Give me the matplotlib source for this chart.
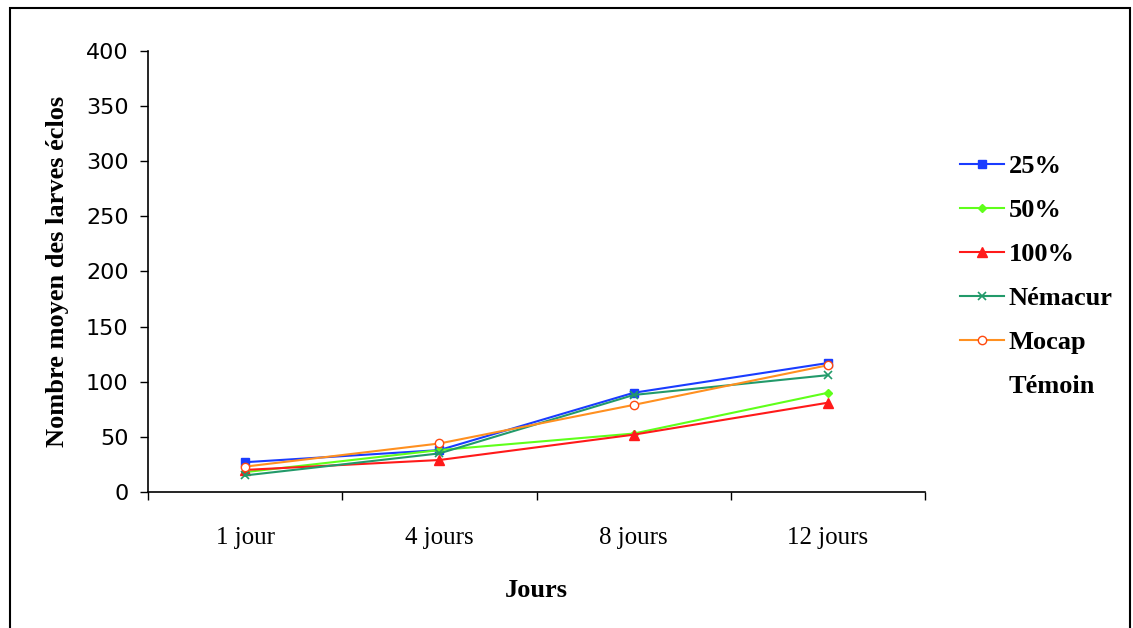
import matplotlib
matplotlib.use("Agg")
import matplotlib.pyplot as plt
from matplotlib.lines import Line2D
from matplotlib.patches import Rectangle

# donnees
jours = ["1 jour", "4 jours", "8 jours", "12 jours"]
d25 = [27, 38, 90, 117]
d50 = [18, 38, 53, 90]
d100 = [20, 29, 52, 81]
nemacur = [15, 35, 88, 106]
mocap = [23, 44, 79, 115]

fig = plt.figure(figsize=(11.33, 6.28), dpi=100)
ax = fig.add_axes([0.1306, 0.2166, 0.686, 0.7022])

x = range(len(jours))
ax.plot(x, d25, color="#1a3cff", marker="s", markersize=6, lw=1.5, label="25%")
ax.plot(x, d50, color="#5fff1a", marker="D", markersize=4, lw=1.5, label="50%")
ax.plot(x, d100, color="#ff1a1a", marker="^", markersize=7, lw=1.5, label="100%")
ax.plot(x, nemacur, color="#229a6a", marker="x", markersize=6, mew=1.2, lw=1.5, label="Némacur")
ax.plot(x, mocap, color="#ff9020", marker="o", markersize=6, mfc="white", mec="#ff4a10",
        lw=1.5, label="Mocap")
# Témoin : pas de courbe visible, seulement dans la légende
vide = Line2D([], [], color="none", label="Témoin")

ax.set_xlim(-0.5, 3.5)
ax.set_ylim(0, 400)
ax.set_yticks(range(0, 401, 50))
ax.set_xticks(list(x))
ax.set_xticklabels(jours, family="Liberation Serif", fontsize=18)
ax.set_xticks([-0.5, 0.5, 1.5, 2.5, 3.5], minor=True)
ax.tick_params(axis="x", which="major", length=0, pad=25)
ax.tick_params(axis="x", which="minor", length=6, direction="out", width=1)
ax.tick_params(axis="y", length=6, width=1, pad=8)
for lab in ax.get_yticklabels():
    lab.set_family("DejaVu Sans")
    lab.set_fontsize(16)

for s in ["top", "right"]:
    ax.spines[s].set_visible(False)
ax.spines["left"].set_linewidth(1.2)
ax.spines["bottom"].set_linewidth(1.2)

ax.set_xlabel("Jours", family="Liberation Serif", fontweight="bold", fontsize=19, labelpad=22)
ax.set_ylabel("Nombre moyen des larves éclos", family="Liberation Serif", fontweight="bold",
              fontsize=19, labelpad=12)

handles, labels = ax.get_legend_handles_labels()
handles.append(vide)
fig.legend(handles=handles, loc="upper left", bbox_to_anchor=(0.826, 0.792), frameon=False,
           prop={"family": "Liberation Serif", "weight": "bold", "size": 19},
           labelspacing=0.78, handlelength=1.7, handletextpad=0.15)

fig.add_artist(Rectangle((0.009, -0.01), 0.988, 0.997, transform=fig.transFigure,
                         fill=False, edgecolor="black", lw=1.5))

fig.savefig("out.png", dpi=100)
